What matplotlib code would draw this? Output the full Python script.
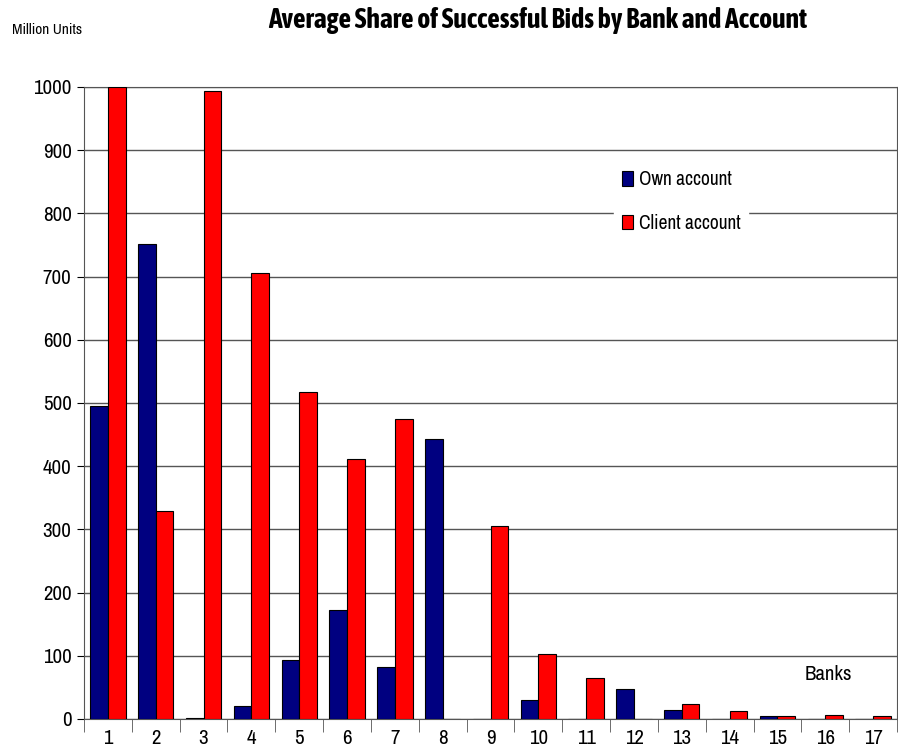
import matplotlib.pyplot as plt
from matplotlib import font_manager
import matplotlib.patheffects as pe
import numpy as np

# the original uses a narrow sans; use a condensed face if one is installed
def is_narrow(f):
    return ("Narrow" in f.name or "Condensed" in f.name
            or f.stretch in ("condensed", "semi-condensed"))

def weight_of(f):
    wt = f.weight
    return wt if isinstance(wt, int) else font_manager.weight_dict.get(wt, 400)

fonts = [f for f in font_manager.fontManager.ttflist if f.style == "normal"]
narrow = sorted({f.name for f in fonts if is_narrow(f)})
narrow_bold = sorted({f.name for f in fonts if is_narrow(f) and 600 <= weight_of(f) <= 750})
plt.rcParams["font.family"] = narrow + ["Liberation Sans", "DejaVu Sans"]

banks = [str(i) for i in range(1, 18)]
own_account = [495, 752, 2, 20, 93, 172, 82, 443, 0, 30, 0, 48, 15, 0, 5, 0, 0]
client_account = [1000, 329, 993, 705, 518, 412, 474, 0, 305, 103, 65, 0, 24, 12, 5, 7, 5]

fig = plt.figure(figsize=(8.98, 7.55), dpi=100)
ax = fig.add_axes([84 / 898, 36 / 755, 813 / 898, 632 / 755])

x = np.arange(len(banks))
w = 0.37
ax.bar(x - w / 2, own_account, w, color="#000080", edgecolor="black", linewidth=0.8,
       label="Own account", zorder=3)
ax.bar(x + w / 2, client_account, w, color="#ff0000", edgecolor="black", linewidth=0.8,
       label="Client account", zorder=3)

ax.set_xlim(-0.5, len(banks) - 0.5)
ax.set_ylim(0, 1000)
ax.set_yticks(np.arange(0, 1001, 100))
ax.tick_params(axis="y", labelsize=15, length=5, pad=4)
ax.yaxis.grid(True, color="#555555", linewidth=1, zorder=0)

# labels at category centres, tick marks between categories
ax.set_xticks(x)
ax.set_xticklabels(banks, fontsize=15)
ax.set_xticks(np.arange(-0.5, len(banks)), minor=True)
ax.tick_params(axis="x", which="major", length=0, pad=7)
ax.tick_params(axis="x", which="minor", length=9, color="#555555")

for s in ax.spines.values():
    s.set_color("#555555")

ax.text(15.07, 70, "Banks", fontsize=15, ha="center", va="center")

leg = ax.legend(loc="upper left", bbox_to_anchor=(604 / 898, 1 - 153 / 755),
                bbox_transform=fig.transFigure, frameon=True, fontsize=14,
                handlelength=0.6, handleheight=0.8, handletextpad=0.3,
                labelspacing=1.25, borderpad=0.4)
leg.get_frame().set_edgecolor("white")
leg.get_frame().set_facecolor("white")
leg.get_frame().set_alpha(1)
for h in leg.legend_handles:
    h.set_edgecolor("black")

title = fig.text(538 / 898, 1 - 20 / 755, "Average Share of Successful Bids by Bank and Account",
                 fontsize=20, fontweight="bold", ha="center", va="center",
                 family=narrow_bold + narrow + ["Liberation Sans"])
if not narrow_bold:
    title.set_path_effects([pe.withStroke(linewidth=1.1, foreground="black")])
fig.text(12 / 898, 1 - 30 / 755, "Million Units", fontsize=11, ha="left", va="center")

fig.savefig("out.png", dpi=100)
